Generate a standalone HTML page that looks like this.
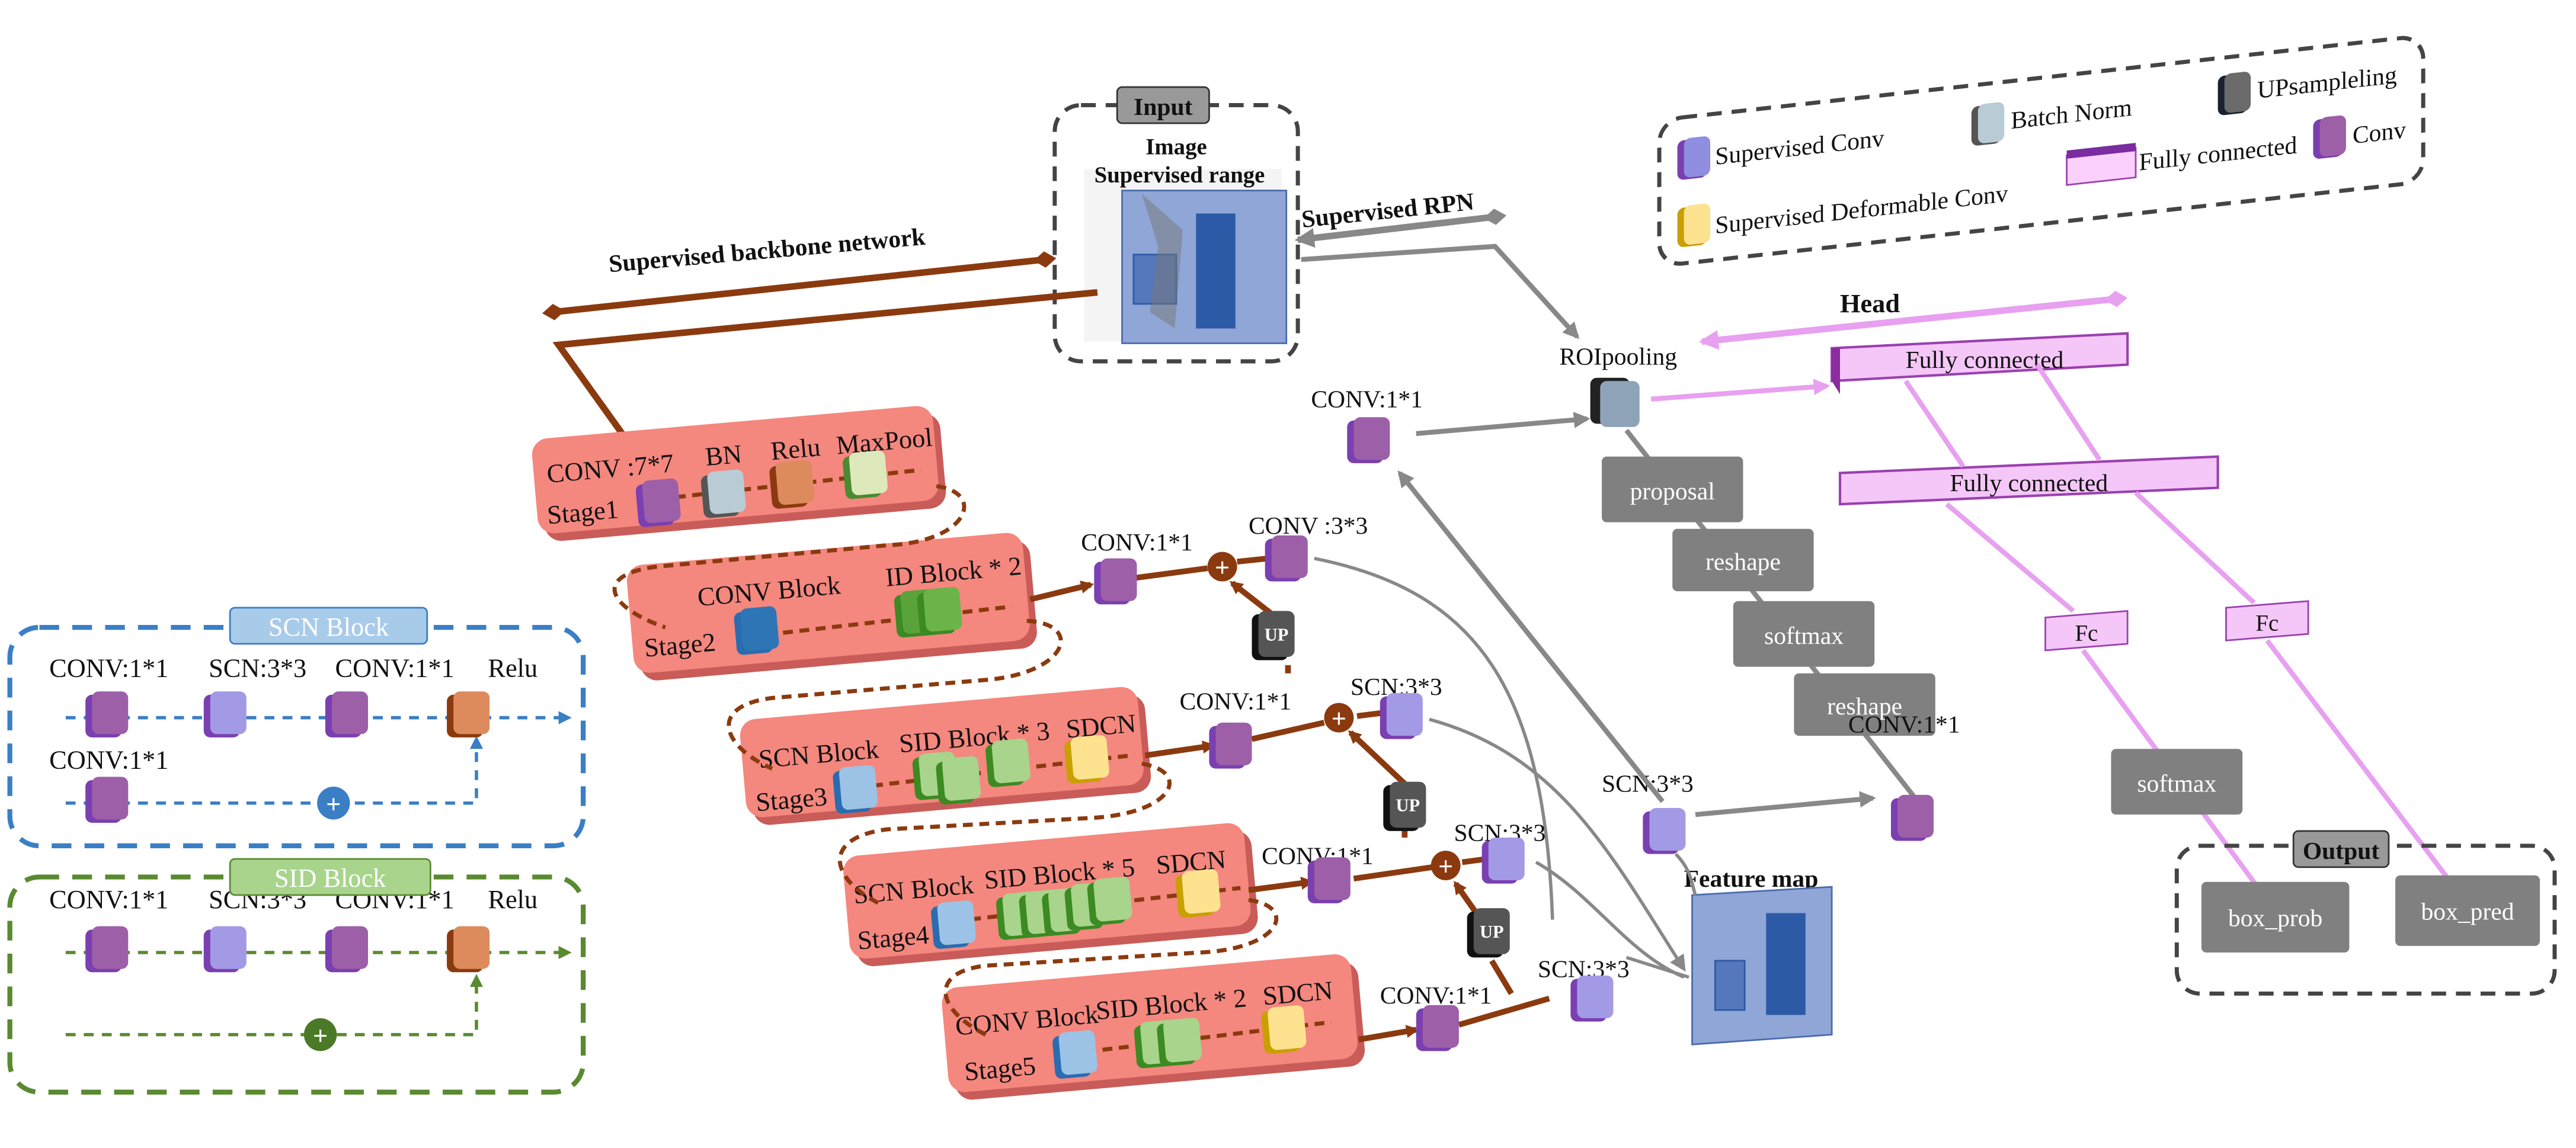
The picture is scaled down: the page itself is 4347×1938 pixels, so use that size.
<!DOCTYPE html>
<html><head><meta charset="utf-8"><style>
html,body{margin:0;padding:0;background:#fff;}
svg{display:block;}
text{font-family:"Liberation Serif",serif;fill:#111;}
</style></head><body>
<svg width="4347" height="1938" viewBox="0 0 1568 699" xmlns="http://www.w3.org/2000/svg">
<defs>
<marker id="ab" markerWidth="8" markerHeight="8" refX="6" refY="4" orient="auto" markerUnits="userSpaceOnUse"><path d="M0,0 L8,4 L0,8 z" fill="#8b3a0f"/></marker>
<marker id="ag" markerWidth="10" markerHeight="10" refX="8" refY="5" orient="auto" markerUnits="userSpaceOnUse"><path d="M0,0 L10,5 L0,10 z" fill="#888"/></marker>
<marker id="ags" markerWidth="12" markerHeight="12" refX="2" refY="6" orient="auto" markerUnits="userSpaceOnUse"><path d="M12,0 L0,6 L12,12 z" fill="#888"/></marker>
<marker id="ap" markerWidth="10" markerHeight="10" refX="8" refY="5" orient="auto" markerUnits="userSpaceOnUse"><path d="M0,0 L10,5 L0,10 z" fill="#e8a0f0"/></marker>
<marker id="aps" markerWidth="12" markerHeight="12" refX="2" refY="6" orient="auto" markerUnits="userSpaceOnUse"><path d="M12,0 L0,6 L12,12 z" fill="#e8a0f0"/></marker>
<marker id="abl" markerWidth="8" markerHeight="8" refX="6" refY="4" orient="auto" markerUnits="userSpaceOnUse"><path d="M0,0 L8,4 L0,8 z" fill="#3a7fc6"/></marker>
<marker id="agr" markerWidth="8" markerHeight="8" refX="6" refY="4" orient="auto" markerUnits="userSpaceOnUse"><path d="M0,0 L8,4 L0,8 z" fill="#5a8a30"/></marker>
<marker id="db" markerWidth="14" markerHeight="12" refX="7" refY="6" orient="auto" markerUnits="userSpaceOnUse"><path d="M0,6 L7,1 L14,6 L7,11 z" fill="#8b3a0f"/></marker>
<marker id="dg" markerWidth="14" markerHeight="12" refX="7" refY="6" orient="auto" markerUnits="userSpaceOnUse"><path d="M0,6 L7,1 L14,6 L7,11 z" fill="#888"/></marker>
<marker id="dp" markerWidth="14" markerHeight="12" refX="7" refY="6" orient="auto" markerUnits="userSpaceOnUse"><path d="M0,6 L7,1 L14,6 L7,11 z" fill="#e8a0f0"/></marker>
</defs>

<!-- Input -->
<rect x="642" y="64" width="148" height="156" rx="16" fill="none" stroke="#444" stroke-width="2.5" stroke-dasharray="9,6"/>
<rect x="680" y="53" width="56" height="22" rx="3" fill="#999" stroke="#333"/>
<text x="708" y="70" font-size="15" font-weight="bold" text-anchor="middle">Input</text>
<rect x="660" y="103" width="120" height="105" fill="#f4f4f4"/>
<text x="716" y="94" font-size="14" font-weight="bold" text-anchor="middle">Image</text>
<text x="718" y="111" font-size="14" font-weight="bold" text-anchor="middle">Supervised range</text>
<rect x="683" y="116" width="100" height="93" fill="#8fa6d6" stroke="#4a6ab0"/>
<rect x="728" y="130" width="24" height="70" fill="#2c5aa6"/>
<rect x="690" y="155" width="26" height="30" fill="#5577bb" stroke="#2c5aa6"/>
<path d="M695,118 L705,150 L700,190 L715,200 L720,140 Z" fill="#777" opacity="0.5"/>

<!-- Legend (skewed) -->
<g transform="translate(1010,0) skewY(-6.3) translate(-1010,0)">
<rect x="1010" y="73" width="465" height="89" rx="14" fill="none" stroke="#444" stroke-width="2.5" stroke-dasharray="9,6"/>
<rect x="1021" y="87" width="18" height="24" rx="4" fill="#7a3fb0"/><rect x="1025" y="86" width="16" height="24" rx="4" fill="#8f8ee0"/>
<text x="1044" y="104" font-size="15">Supervised Conv</text>
<rect x="1200" y="86" width="18" height="24" rx="4" fill="#555"/><rect x="1204" y="85" width="16" height="24" rx="4" fill="#b9ccd6"/>
<text x="1224" y="102" font-size="15">Batch Norm</text>
<rect x="1350" y="84" width="18" height="24" rx="4" fill="#1a2230"/><rect x="1354" y="83" width="16" height="24" rx="4" fill="#6b6b6b"/>
<text x="1374" y="100" font-size="15">UPsampleling</text>
<rect x="1258" y="122" width="42" height="18" fill="#fbd0fc" stroke="#9a40b0"/>
<rect x="1258" y="119" width="42" height="5" fill="#7a2ca0"/>
<text x="1302" y="136" font-size="15">Fully connected</text>
<rect x="1408" y="117" width="18" height="24" rx="4" fill="#7a3fb0"/><rect x="1412" y="116" width="16" height="24" rx="4" fill="#9d5fa8"/>
<text x="1432" y="134" font-size="15">Conv</text>
<rect x="1021" y="128" width="18" height="24" rx="4" fill="#c8a000"/><rect x="1025" y="127" width="16" height="24" rx="4" fill="#fde290"/>
<text x="1044" y="146" font-size="15">Supervised Deformable Conv</text>
</g>

<!-- Backbone arrows -->
<text x="370" y="157" font-size="15" font-weight="bold" transform="rotate(-5 470 150)">Supervised backbone network</text>
<line x1="337" y1="190" x2="636" y2="158" stroke="#8b3a0f" stroke-width="4" marker-start="url(#db)" marker-end="url(#db)"/>
<polyline points="668,178 340,210 383,270" fill="none" stroke="#8b3a0f" stroke-width="4" marker-end="url(#ab)"/>
<text x="792" y="133" font-size="15" font-weight="bold" transform="rotate(-6 845 128)">Supervised RPN</text>
<line x1="790" y1="146" x2="910" y2="132" stroke="#888" stroke-width="4" marker-start="url(#ags)" marker-end="url(#dg)"/>
<polyline points="792,158 910,150 960,205" fill="none" stroke="#888" stroke-width="3" marker-end="url(#ag)"/>

<!-- Head -->
<text x="1120" y="190" font-size="16" font-weight="bold">Head</text>
<line x1="1036" y1="208" x2="1288" y2="182" stroke="#e8a0f0" stroke-width="4" marker-start="url(#aps)" marker-end="url(#dp)"/>
<text x="985" y="222" font-size="15" text-anchor="middle">ROIpooling</text>
<rect x="968" y="230" width="24" height="28" rx="4" fill="#222"/><rect x="974" y="232" width="24" height="28" rx="4" fill="#8fa3b8"/>
<line x1="1005" y1="243" x2="1112" y2="235" stroke="#e8a0f0" stroke-width="3" marker-end="url(#ap)"/>
<polygon points="1115,212 1295,203 1295,222 1115,232" fill="#f5c6f8" stroke="#9a40b0" stroke-width="1.5"/>
<polygon points="1115,212 1120,212 1120,240 1115,232" fill="#8a2ca0"/>
<text x="1208" y="224" font-size="15" text-anchor="middle">Fully connected</text>
<polygon points="1120,288 1350,278 1350,297 1120,307" fill="#f5c6f8" stroke="#9a40b0" stroke-width="1.5"/>
<text x="1235" y="299" font-size="15" text-anchor="middle">Fully connected</text>
<line x1="1160" y1="232" x2="1195" y2="284" stroke="#e8a0f0" stroke-width="3"/>
<line x1="1240" y1="222" x2="1278" y2="280" stroke="#e8a0f0" stroke-width="3"/>
<line x1="1185" y1="307" x2="1262" y2="372" stroke="#e8a0f0" stroke-width="3"/>
<line x1="1300" y1="300" x2="1372" y2="367" stroke="#e8a0f0" stroke-width="3"/>
<polygon points="1245,376 1295,372 1295,392 1245,396" fill="#f5c6f8" stroke="#9a40b0"/>
<text x="1270" y="390" font-size="14" text-anchor="middle">Fc</text>
<polygon points="1355,370 1405,366 1405,386 1355,390" fill="#f5c6f8" stroke="#9a40b0"/>
<text x="1380" y="384" font-size="14" text-anchor="middle">Fc</text>
<line x1="1268" y1="396" x2="1380" y2="548" stroke="#e8a0f0" stroke-width="3" marker-end="url(#ap)"/>
<line x1="1380" y1="390" x2="1500" y2="548" stroke="#e8a0f0" stroke-width="3" marker-end="url(#ap)"/>
<rect x="1285" y="456" width="80" height="40" rx="3" fill="#808080"/>
<text x="1325" y="482" font-size="15" text-anchor="middle" style="fill:#fff">softmax</text>

<!-- Output -->
<rect x="1325" y="515" width="230" height="90" rx="14" fill="none" stroke="#444" stroke-width="2.5" stroke-dasharray="9,6"/>
<rect x="1396" y="506" width="58" height="22" rx="3" fill="#999" stroke="#333"/>
<text x="1425" y="523" font-size="15" font-weight="bold" text-anchor="middle">Output</text>
<rect x="1340" y="537" width="90" height="43" rx="3" fill="#808080"/>
<text x="1385" y="564" font-size="15" text-anchor="middle" style="fill:#fff">box_prob</text>
<rect x="1458" y="533" width="88" height="43" rx="3" fill="#808080"/>
<text x="1502" y="560" font-size="15" text-anchor="middle" style="fill:#fff">box_pred</text>

<!-- RPN grey boxes -->
<line x1="1165" y1="485" x2="990" y2="262" stroke="#888" stroke-width="3"/>
<g font-size="15">
<rect x="975" y="278" width="86" height="40" rx="3" fill="#808080"/><text x="1018" y="304" text-anchor="middle" style="fill:#fff">proposal</text>
<rect x="1018" y="322" width="86" height="38" rx="3" fill="#808080"/><text x="1061" y="347" text-anchor="middle" style="fill:#fff">reshape</text>
<rect x="1055" y="366" width="86" height="40" rx="3" fill="#808080"/><text x="1098" y="392" text-anchor="middle" style="fill:#fff">softmax</text>
<rect x="1092" y="410" width="86" height="38" rx="3" fill="#808080"/><text x="1135" y="435" text-anchor="middle" style="fill:#fff">reshape</text>
</g>
<text x="1125" y="446" font-size="15">CONV:1*1</text>
<rect x="1151" y="486" width="22" height="26" rx="4" fill="#7a3fb0"/><rect x="1155" y="484" width="22" height="26" rx="4" fill="#9d5fa8"/>
<text x="798" y="248" font-size="15">CONV:1*1</text>
<rect x="820" y="256" width="22" height="26" rx="4" fill="#7a3fb0"/><rect x="824" y="254" width="22" height="26" rx="4" fill="#9d5fa8"/>
<line x1="862" y1="264" x2="966" y2="255" stroke="#888" stroke-width="3" marker-end="url(#ag)"/>

<!-- Feature map -->
<text x="1025" y="540" font-size="15" font-weight="bold">Feature map</text>
<polygon points="1030,545 1115,540 1115,630 1030,636" fill="#8fa6d6" stroke="#4a6ab0"/>
<rect x="1075" y="556" width="24" height="62" fill="#2c5aa6"/>
<rect x="1044" y="585" width="18" height="30" fill="#5577bb" stroke="#2c5aa6"/>
<text x="975" y="482" font-size="15">SCN:3*3</text>
<rect x="1000" y="494" width="22" height="26" rx="4" fill="#7a3fb0"/><rect x="1004" y="492" width="22" height="26" rx="4" fill="#a39ae6"/>
<line x1="1032" y1="496" x2="1140" y2="486" stroke="#888" stroke-width="3" marker-end="url(#ag)"/>
<line x1="1012" y1="488" x2="852" y2="288" stroke="#888" stroke-width="3" marker-end="url(#ag)"/>
<path d="M800,340 C900,360 940,420 945,560" fill="none" stroke="#888" stroke-width="2"/>
<path d="M870,438 C950,460 980,520 1025,590" fill="none" stroke="#888" stroke-width="2" marker-end="url(#ag)"/>
<path d="M935,525 C970,545 990,580 1025,595" fill="none" stroke="#888" stroke-width="2"/>
<path d="M990,583 L1028,595" fill="none" stroke="#888" stroke-width="2"/>
<path d="M1020,520 C1030,530 1030,540 1032,545" fill="none" stroke="#888" stroke-width="2"/>

<!-- Stages -->
<g transform="rotate(-5 447 285)">
<rect x="329" y="262" width="245" height="58" rx="10" fill="#c95c58"/>
<rect x="325" y="257" width="245" height="58" rx="10" fill="#f4877e"/>
<text x="333" y="284" font-size="16">CONV :7*7</text><text x="430" y="282" font-size="16">BN</text><text x="470" y="282" font-size="16">Relu</text><text x="510" y="282" font-size="16">MaxPool</text>
<text x="331" y="309" font-size="16">Stage1</text>
<line x1="390" y1="300" x2="560" y2="296" stroke="#8b3a0f" stroke-width="2.5" stroke-dasharray="6,4"/>
<rect x="386" y="290" width="22" height="26" rx="4" fill="#7a3fb0"/><rect x="390" y="288" width="22" height="26" rx="4" fill="#9d5fa8"/>
<rect x="426" y="288" width="22" height="26" rx="4" fill="#555"/><rect x="430" y="286" width="22" height="26" rx="4" fill="#b9ccd6"/>
<rect x="468" y="286" width="22" height="26" rx="4" fill="#8b3a0f"/><rect x="472" y="284" width="22" height="26" rx="4" fill="#dd8a5c"/>
<rect x="513" y="284" width="22" height="26" rx="4" fill="#4a8a30"/><rect x="517" y="282" width="22" height="26" rx="4" fill="#dde8bb"/>
</g>
<g transform="rotate(-5 505 365)">
<rect x="387" y="339" width="242" height="66" rx="10" fill="#c95c58"/>
<rect x="383" y="334" width="242" height="66" rx="10" fill="#f4877e"/>
<text x="425" y="362" font-size="16">CONV Block</text><text x="540" y="360" font-size="16">ID Block * 2</text>
<text x="390" y="390" font-size="16">Stage2</text>
<line x1="465" y1="383" x2="615" y2="379" stroke="#8b3a0f" stroke-width="2.5" stroke-dasharray="6,4"/>
<rect x="446" y="368" width="22" height="26" rx="4" fill="#2a6cb0"/><rect x="450" y="366" width="22" height="26" rx="4" fill="#2e75b6"/>
<rect x="544" y="366" width="22" height="26" rx="4" fill="#3c8a22"/><rect x="548" y="364" width="22" height="26" rx="4" fill="#5aa23a"/>
<rect x="558" y="366" width="22" height="26" rx="4" fill="#3c8a22"/><rect x="562" y="364" width="22" height="26" rx="4" fill="#6ab44a"/>
</g>
<g transform="rotate(-5 573 460)">
<rect x="456" y="433" width="243" height="60" rx="10" fill="#c95c58"/>
<rect x="452" y="428" width="243" height="60" rx="10" fill="#f4877e"/>
<text x="462" y="458" font-size="16">SCN Block</text><text x="548" y="456" font-size="16">SID Block * 3</text><text x="650" y="456" font-size="16">SDCN</text>
<text x="458" y="484" font-size="16">Stage3</text>
<line x1="520" y1="475" x2="690" y2="470" stroke="#8b3a0f" stroke-width="2.5" stroke-dasharray="6,4"/>
<rect x="506" y="464" width="22" height="26" rx="4" fill="#2a6cb0"/><rect x="510" y="462" width="22" height="26" rx="4" fill="#9cc3e6"/>
<rect x="555" y="460" width="22" height="26" rx="4" fill="#3c8a22"/><rect x="559" y="458" width="22" height="26" rx="4" fill="#a8d48c"/>
<rect x="569" y="464" width="22" height="26" rx="4" fill="#3c8a22"/><rect x="573" y="462" width="22" height="26" rx="4" fill="#a8d48c"/>
<rect x="600" y="456" width="22" height="26" rx="4" fill="#3c8a22"/><rect x="604" y="454" width="22" height="26" rx="4" fill="#a8d48c"/>
<rect x="648" y="458" width="22" height="26" rx="4" fill="#c8a000"/><rect x="652" y="456" width="22" height="26" rx="4" fill="#fde290"/>
</g>
<g transform="rotate(-5 637 545)">
<rect x="519" y="516" width="245" height="63" rx="10" fill="#c95c58"/>
<rect x="515" y="511" width="245" height="63" rx="10" fill="#f4877e"/>
<text x="520" y="540" font-size="16">SCN Block</text><text x="600" y="538" font-size="16">SID Block * 5</text><text x="705" y="538" font-size="16">SDCN</text>
<text x="520" y="568" font-size="16">Stage4</text>
<line x1="580" y1="556" x2="755" y2="551" stroke="#8b3a0f" stroke-width="2.5" stroke-dasharray="6,4"/>
<rect x="566" y="546" width="22" height="26" rx="4" fill="#2a6cb0"/><rect x="570" y="544" width="22" height="26" rx="4" fill="#9cc3e6"/>
<rect x="606" y="544" width="22" height="26" rx="4" fill="#3c8a22"/><rect x="610" y="542" width="22" height="26" rx="4" fill="#a8d48c"/>
<rect x="620" y="544" width="22" height="26" rx="4" fill="#3c8a22"/><rect x="624" y="542" width="22" height="26" rx="4" fill="#a8d48c"/>
<rect x="634" y="544" width="22" height="26" rx="4" fill="#3c8a22"/><rect x="638" y="542" width="22" height="26" rx="4" fill="#a8d48c"/>
<rect x="648" y="542" width="22" height="26" rx="4" fill="#3c8a22"/><rect x="652" y="540" width="22" height="26" rx="4" fill="#a8d48c"/>
<rect x="662" y="540" width="22" height="26" rx="4" fill="#3c8a22"/><rect x="666" y="538" width="22" height="26" rx="4" fill="#a8d48c"/>
<rect x="716" y="540" width="22" height="26" rx="4" fill="#c8a000"/><rect x="720" y="538" width="22" height="26" rx="4" fill="#fde290"/>
</g>
<g transform="rotate(-5 700 625)">
<rect x="579" y="596" width="250" height="64" rx="10" fill="#c95c58"/>
<rect x="575" y="591" width="250" height="64" rx="10" fill="#f4877e"/>
<text x="582" y="620" font-size="16">CONV Block</text><text x="668" y="618" font-size="16">SID Block * 2</text><text x="770" y="618" font-size="16">SDCN</text>
<text x="585" y="648" font-size="16">Stage5</text>
<line x1="660" y1="637" x2="810" y2="632" stroke="#8b3a0f" stroke-width="2.5" stroke-dasharray="6,4"/>
<rect x="640" y="626" width="22" height="26" rx="4" fill="#2a6cb0"/><rect x="644" y="624" width="22" height="26" rx="4" fill="#9cc3e6"/>
<rect x="690" y="624" width="22" height="26" rx="4" fill="#3c8a22"/><rect x="694" y="622" width="22" height="26" rx="4" fill="#a8d48c"/>
<rect x="704" y="624" width="22" height="26" rx="4" fill="#3c8a22"/><rect x="708" y="622" width="22" height="26" rx="4" fill="#a8d48c"/>
<rect x="768" y="622" width="22" height="26" rx="4" fill="#c8a000"/><rect x="772" y="620" width="22" height="26" rx="4" fill="#fde290"/>
</g>
<g fill="none" stroke="#8b3a0f" stroke-width="2.5" stroke-dasharray="6,4">
<path d="M570,296 C600,300 590,330 540,332 L400,345 C360,350 370,370 405,382"/>
<path d="M625,378 C660,380 650,410 600,414 L470,425 C430,430 440,455 470,468"/>
<path d="M695,465 C725,470 715,495 665,498 L540,505 C500,510 505,535 535,550"/>
<path d="M760,548 C790,552 780,578 730,580 L600,588 C565,592 570,615 600,630"/>
</g>

<!-- FPN -->
<g font-size="15">
<text x="658" y="335">CONV:1*1</text>
<text x="760" y="325">CONV :3*3</text>
<text x="718" y="432">CONV:1*1</text>
<text x="822" y="423">SCN:3*3</text>
<text x="768" y="526">CONV:1*1</text>
<text x="885" y="512">SCN:3*3</text>
<text x="840" y="611">CONV:1*1</text>
<text x="936" y="595">SCN:3*3</text>
</g>
<g stroke="#8b3a0f" stroke-width="3.5" fill="none">
<line x1="627" y1="365" x2="664" y2="356" marker-end="url(#ab)"/>
<line x1="690" y1="352" x2="735" y2="346"/>
<line x1="753" y1="342" x2="772" y2="340"/>
<line x1="697" y1="460" x2="738" y2="454" marker-end="url(#ab)"/>
<line x1="762" y1="450" x2="806" y2="440"/>
<line x1="826" y1="436" x2="842" y2="434"/>
<line x1="760" y1="542" x2="798" y2="537" marker-end="url(#ab)"/>
<line x1="824" y1="535" x2="872" y2="528"/>
<line x1="890" y1="525" x2="905" y2="523"/>
<line x1="827" y1="633" x2="862" y2="627" marker-end="url(#ab)"/>
<line x1="888" y1="624" x2="943" y2="608"/>
<line x1="920" y1="605" x2="908" y2="585"/>
<line x1="905" y1="565" x2="886" y2="538" marker-end="url(#ab)"/>
<line x1="858" y1="480" x2="822" y2="446" marker-end="url(#ab)"/>
<line x1="782" y1="380" x2="750" y2="355" marker-end="url(#ab)"/>
<line x1="855" y1="510" x2="855" y2="503"/>
<line x1="784" y1="405" x2="784" y2="410"/>
</g>
<rect x="666" y="342" width="22" height="26" rx="4" fill="#7a3fb0"/><rect x="670" y="340" width="22" height="26" rx="4" fill="#9d5fa8"/>
<rect x="770" y="328" width="22" height="26" rx="4" fill="#7a3fb0"/><rect x="774" y="326" width="22" height="26" rx="4" fill="#9d5fa8"/>
<rect x="736" y="442" width="22" height="26" rx="4" fill="#7a3fb0"/><rect x="740" y="440" width="22" height="26" rx="4" fill="#9d5fa8"/>
<rect x="840" y="424" width="22" height="26" rx="4" fill="#7a3fb0"/><rect x="844" y="422" width="22" height="26" rx="4" fill="#a39ae6"/>
<rect x="796" y="524" width="22" height="26" rx="4" fill="#7a3fb0"/><rect x="800" y="522" width="22" height="26" rx="4" fill="#9d5fa8"/>
<rect x="902" y="512" width="22" height="26" rx="4" fill="#7a3fb0"/><rect x="906" y="510" width="22" height="26" rx="4" fill="#a39ae6"/>
<rect x="862" y="614" width="22" height="26" rx="4" fill="#7a3fb0"/><rect x="866" y="612" width="22" height="26" rx="4" fill="#9d5fa8"/>
<rect x="956" y="596" width="22" height="26" rx="4" fill="#7a3fb0"/><rect x="960" y="594" width="22" height="26" rx="4" fill="#a39ae6"/>
<g font-size="11" font-weight="bold">
<rect x="762" y="374" width="22" height="28" rx="4" fill="#111"/><rect x="766" y="372" width="22" height="28" rx="4" fill="#555"/><text x="777" y="390" text-anchor="middle" style="fill:#fff">UP</text>
<rect x="842" y="478" width="22" height="28" rx="4" fill="#111"/><rect x="846" y="476" width="22" height="28" rx="4" fill="#555"/><text x="857" y="494" text-anchor="middle" style="fill:#fff">UP</text>
<rect x="893" y="555" width="22" height="28" rx="4" fill="#111"/><rect x="897" y="553" width="22" height="28" rx="4" fill="#555"/><text x="908" y="571" text-anchor="middle" style="fill:#fff">UP</text>
</g>
<g font-size="16" font-weight="bold">
<circle cx="744" cy="345" r="9" fill="#8b3a0f"/><text x="744" y="351" text-anchor="middle" style="fill:#fff">+</text>
<circle cx="815" cy="437" r="9" fill="#8b3a0f"/><text x="815" y="443" text-anchor="middle" style="fill:#fff">+</text>
<circle cx="880" cy="527" r="9" fill="#8b3a0f"/><text x="880" y="533" text-anchor="middle" style="fill:#fff">+</text>
</g>

<!-- SCN Block -->
<rect x="6" y="382" width="349" height="133" rx="18" fill="none" stroke="#3a7fc6" stroke-width="3" stroke-dasharray="12,8"/>
<rect x="140" y="370" width="120" height="22" rx="3" fill="#a8cbe9" stroke="#3a7fc6"/>
<text x="200" y="387" font-size="16" text-anchor="middle" style="fill:#fff">SCN Block</text>
<g font-size="16">
<text x="30" y="412">CONV:1*1</text><text x="127" y="412">SCN:3*3</text><text x="204" y="412">CONV:1*1</text><text x="297" y="412">Relu</text>
<text x="30" y="468">CONV:1*1</text>
<text x="30" y="553">CONV:1*1</text><text x="127" y="553">SCN:3*3</text><text x="204" y="553">CONV:1*1</text><text x="297" y="553">Relu</text>
</g>
<line x1="40" y1="437" x2="346" y2="437" stroke="#3a7fc6" stroke-width="2" stroke-dasharray="6,5" marker-end="url(#abl)"/>
<polyline points="40,489 290,489 290,450" fill="none" stroke="#3a7fc6" stroke-width="2" stroke-dasharray="6,5" marker-end="url(#abl)"/>
<rect x="52" y="423" width="22" height="26" rx="4" fill="#7a3fb0"/><rect x="56" y="421" width="22" height="26" rx="4" fill="#9d5fa8"/>
<rect x="124" y="423" width="22" height="26" rx="4" fill="#7a3fb0"/><rect x="128" y="421" width="22" height="26" rx="4" fill="#a39ae6"/>
<rect x="198" y="423" width="22" height="26" rx="4" fill="#7a3fb0"/><rect x="202" y="421" width="22" height="26" rx="4" fill="#9d5fa8"/>
<rect x="272" y="423" width="22" height="26" rx="4" fill="#8b3a0f"/><rect x="276" y="421" width="22" height="26" rx="4" fill="#dd8a5c"/>
<rect x="52" y="475" width="22" height="26" rx="4" fill="#7a3fb0"/><rect x="56" y="473" width="22" height="26" rx="4" fill="#9d5fa8"/>
<circle cx="203" cy="489" r="10" fill="#3a7fc6"/><text x="203" y="495" font-size="16" font-weight="bold" text-anchor="middle" style="fill:#fff">+</text>

<!-- SID Block -->
<rect x="6" y="534" width="349" height="131" rx="18" fill="none" stroke="#5a8a30" stroke-width="3" stroke-dasharray="12,8"/>
<rect x="140" y="523" width="122" height="22" rx="3" fill="#a8d48c" stroke="#5a8a30"/>
<text x="201" y="540" font-size="16" text-anchor="middle" style="fill:#fff">SID Block</text>
<line x1="40" y1="580" x2="346" y2="580" stroke="#5a8a30" stroke-width="2" stroke-dasharray="6,5" marker-end="url(#agr)"/>
<polyline points="40,630 290,630 290,595" fill="none" stroke="#5a8a30" stroke-width="2" stroke-dasharray="6,5" marker-end="url(#agr)"/>
<rect x="52" y="566" width="22" height="26" rx="4" fill="#7a3fb0"/><rect x="56" y="564" width="22" height="26" rx="4" fill="#9d5fa8"/>
<rect x="124" y="566" width="22" height="26" rx="4" fill="#7a3fb0"/><rect x="128" y="564" width="22" height="26" rx="4" fill="#a39ae6"/>
<rect x="198" y="566" width="22" height="26" rx="4" fill="#7a3fb0"/><rect x="202" y="564" width="22" height="26" rx="4" fill="#9d5fa8"/>
<rect x="272" y="566" width="22" height="26" rx="4" fill="#8b3a0f"/><rect x="276" y="564" width="22" height="26" rx="4" fill="#dd8a5c"/>
<circle cx="195" cy="630" r="10" fill="#4a7a28"/><text x="195" y="636" font-size="16" font-weight="bold" text-anchor="middle" style="fill:#fff">+</text>
</svg>
</body></html>
